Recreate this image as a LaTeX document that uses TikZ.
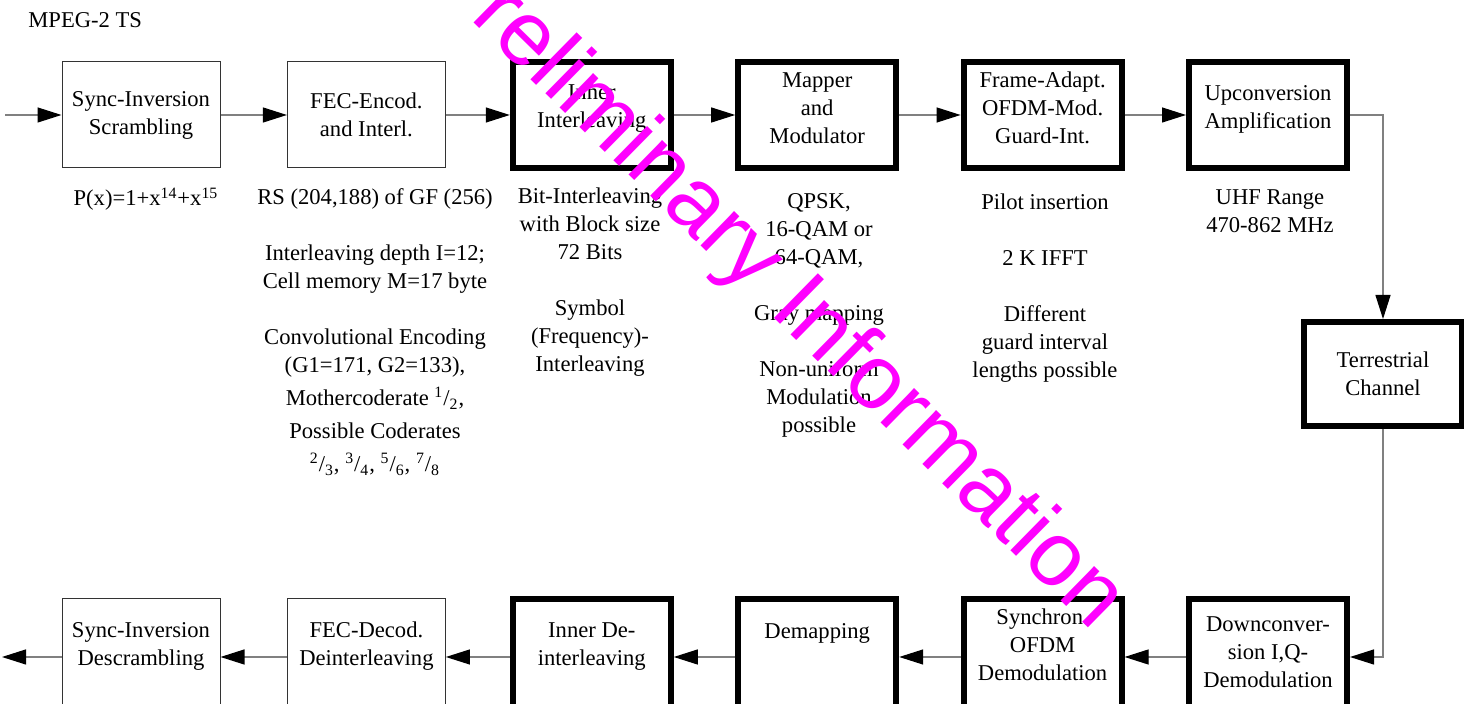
\documentclass[tikz,border=0pt]{standalone}
\usepackage{fontspec}
\setmainfont{Liberation Serif}
\newfontfamily\wmfont{Liberation Sans}
\usetikzlibrary{arrows.meta, positioning}
\definecolor{wmpink}{RGB}{255,0,255}

\tikzset{
  blk/.style={draw=black!80, line width=0.5pt, minimum width=79pt, minimum height=53pt, inner sep=1pt},
  thk/.style={blk, draw=black, line width=3pt},
  low/.style={minimum height=58pt},
  lbl/.style={align=center, inner sep=0pt},
  con/.style={draw=black!50, line width=0.6pt, -{Triangle[length=12pt,width=7.5pt,color=black]}},
  txt/.style={align=center, anchor=north, inner sep=0pt},
}

\begin{document}
\begin{tikzpicture}[x=0.5pt, y=-0.5pt, font=\fontsize{11.3}{14}\selectfont]
  \useasboundingbox (0,0) rectangle (1464,704);
  \node[anchor=base west, inner sep=0pt] (ts) at (28,28) {MPEG-2 TS};
  % transmitter
  \foreach \i/\s/\d/\n in {1/blk/0/{Sync-Inversion\\Scrambling}, 2/blk/0/{FEC-Encod.\\and Interl.},
      3/thk/3/{Inner\\Interleaving}, 4/thk/3.5/{Mapper\\and\\Modulator},
      5/thk/3.5/{Frame-Adapt.\\OFDM-Mod.\\Guard-Int.}, 6/thk/3/{Upconversion\\Amplification}} {
    \node[\s, label={[lbl, yshift=\d pt]center:\n}] (T\i) at ({141+225.4*(\i-1)},115) {};
  }
  \node[thk, minimum height=52pt, align=center] (chan) at (1383,374) {Terrestrial\\Channel};
  % receiver
  \foreach \i/\s/\d/\n in {1/blk/5.5/{Sync-Inversion\\Descrambling}, 2/blk/5.5/{FEC-Decod.\\Deinterleaving},
      3/thk/5/{Inner De-\\interleaving}, 4/thk/12/{Demapping},
      5/thk/6/{Synchron.\\OFDM\\Demodulation}, 6/thk/2.5/{Downconver-\\sion I,Q-\\Demodulation}} {
    \node[\s, low, label={[lbl, yshift=\d pt]center:\n}] (B\i) at ({141+225.4*(\i-1)},657) {};
  }
  \coordinate (in) at (5,115);
  \coordinate (out) at (2,657);
  \draw[con] (in) -- (T1);
  \foreach \a/\b in {T1/T2,T2/T3,T3/T4,T4/T5,T5/T6,B6/B5,B5/B4,B4/B3,B3/B2,B2/B1} {
    \draw[con] (\a) -- (\b);
  }
  \draw[con] (T6) -| (chan);
  \draw[con] (chan) |- (B6);
  \draw[con] (B1) -- (out);
  % notes below the transmitter
  \node[anchor=base, inner sep=0pt] (n1) at (146,206) {P(x)=1+x\textsuperscript{14}+x\textsuperscript{15}};
  \node[txt] (n2) at (375,188.5) {RS (204,188) of GF (256)\\[14pt]Interleaving depth I=12;\\Cell memory M=17 byte\\[14pt]%
    Convolutional Encoding\\(G1=171, G2=133),\\[2.5pt]Mothercoderate \textsuperscript{1}/\textsubscript{2},\\[2.5pt]%
    Possible Coderates\\[2.5pt]\textsuperscript{2}/\textsubscript{3}, \textsuperscript{3}/\textsubscript{4}, \textsuperscript{5}/\textsubscript{6}, \textsuperscript{7}/\textsubscript{8}};
  \node[txt] (n3) at (590,187.5) {Bit-Interleaving\\with Block size\\72 Bits\\[14pt]Symbol\\(Frequency)-\\Interleaving};
  \node[txt] (n4) at (819,193.5) {QPSK,\\16-QAM or\\64-QAM,\\[14pt]Gray mapping\\[14pt]Non-uniform\\Modulation\\possible};
  \node[txt] (n5) at (1045,193.5) {Pilot insertion\\[14pt]2 K IFFT\\[14pt]Different\\guard interval\\lengths possible};
  \node[txt] (n6) at (1270,189.5) {UHF Range\\470-862 MHz};
  % watermark
  \node[rotate=-44.5, text=wmpink, inner sep=0pt, font=\wmfont\fontsize{45.5}{50}\selectfont] (wm) at (776,287) {Preliminary Information};
\end{tikzpicture}
\end{document}
